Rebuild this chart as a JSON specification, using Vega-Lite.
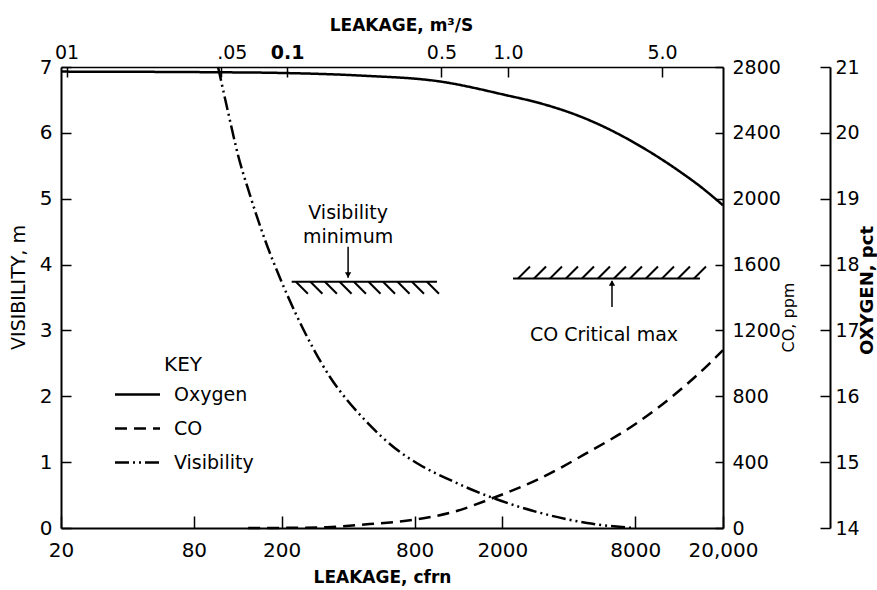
{
  "$schema": "https://vega.github.io/schema/vega-lite/v6.json",
  "width": 662,
  "height": 461,
  "autosize": {"type": "none"},
  "padding": {"left": 61, "top": 67, "right": 154, "bottom": 62},
  "background": "white",
  "config": {
    "font": "DejaVu Sans",
    "view": {"stroke": null},
    "axis": {
      "domainColor": "black", "domainWidth": 2, "tickColor": "black", "tickWidth": 1.5,
      "labelColor": "black", "titleColor": "black", "grid": false,
      "labelFont": "DejaVu Sans", "titleFont": "DejaVu Sans",
      "labelFontSize": 20, "titleFontSize": 19, "titleFontWeight": "normal", "labelFlush": false
    },
    "text": {"font": "DejaVu Sans", "fontSize": 19, "color": "black"}
  },
  "datasets": {
    "vis": [
      {"cfm": 103, "v": 7.0, "series": "Visibility"},
      {"cfm": 114.3, "v": 6.317, "series": "Visibility"},
      {"cfm": 126.8, "v": 5.664, "series": "Visibility"},
      {"cfm": 143.7, "v": 5.056, "series": "Visibility"},
      {"cfm": 168.1, "v": 4.373, "series": "Visibility"},
      {"cfm": 196.5, "v": 3.796, "series": "Visibility"},
      {"cfm": 229.8, "v": 3.28, "series": "Visibility"},
      {"cfm": 277.4, "v": 2.733, "series": "Visibility"},
      {"cfm": 331.1, "v": 2.293, "series": "Visibility"},
      {"cfm": 395.6, "v": 1.944, "series": "Visibility"},
      {"cfm": 467.3, "v": 1.67, "series": "Visibility"},
      {"cfm": 575.8, "v": 1.367, "series": "Visibility"},
      {"cfm": 687.6, "v": 1.154, "series": "Visibility"},
      {"cfm": 847.4, "v": 0.957, "series": "Visibility"},
      {"cfm": 1158, "v": 0.729, "series": "Visibility"},
      {"cfm": 1814, "v": 0.456, "series": "Visibility"},
      {"cfm": 2872, "v": 0.243, "series": "Visibility"},
      {"cfm": 4840, "v": 0.076, "series": "Visibility"},
      {"cfm": 7820, "v": 0.0, "series": "Visibility"}
    ],
    "co": [
      {"cfm": 141, "ppm": 0, "series": "CO"},
      {"cfm": 218, "ppm": 1, "series": "CO"},
      {"cfm": 321, "ppm": 5, "series": "CO"},
      {"cfm": 500, "ppm": 24, "series": "CO"},
      {"cfm": 787, "ppm": 49, "series": "CO"},
      {"cfm": 1195, "ppm": 97, "series": "CO"},
      {"cfm": 1814, "ppm": 182, "series": "CO"},
      {"cfm": 2872, "ppm": 292, "series": "CO"},
      {"cfm": 4840, "ppm": 456, "series": "CO"},
      {"cfm": 8150, "ppm": 638, "series": "CO"},
      {"cfm": 12772, "ppm": 838, "series": "CO"},
      {"cfm": 17460, "ppm": 1002, "series": "CO"},
      {"cfm": 20000, "ppm": 1081, "series": "CO"}
    ],
    "o2": [
      {"cfm": 20, "pct": 20.93, "series": "Oxygen"},
      {"cfm": 103, "pct": 20.92, "series": "Oxygen"},
      {"cfm": 197, "pct": 20.91, "series": "Oxygen"},
      {"cfm": 453, "pct": 20.87, "series": "Oxygen"},
      {"cfm": 1044, "pct": 20.78, "series": "Oxygen"},
      {"cfm": 2094, "pct": 20.57, "series": "Oxygen"},
      {"cfm": 2964, "pct": 20.45, "series": "Oxygen"},
      {"cfm": 4498, "pct": 20.25, "series": "Oxygen"},
      {"cfm": 5541, "pct": 20.12, "series": "Oxygen"},
      {"cfm": 9020, "pct": 19.74, "series": "Oxygen"},
      {"cfm": 12772, "pct": 19.41, "series": "Oxygen"},
      {"cfm": 15727, "pct": 19.19, "series": "Oxygen"},
      {"cfm": 20000, "pct": 18.9, "series": "Oxygen"}
    ],
    "visHatch": [
      {"cfm": 232, "v": 3.74}, {"cfm": 270, "v": 3.74}, {"cfm": 314, "v": 3.74},
      {"cfm": 366, "v": 3.74}, {"cfm": 425, "v": 3.74}, {"cfm": 495, "v": 3.74},
      {"cfm": 576, "v": 3.74}, {"cfm": 670, "v": 3.74}, {"cfm": 779, "v": 3.74},
      {"cfm": 911, "v": 3.74}
    ],
    "coHatch": [
      {"cfm": 2355, "ppm": 1515}, {"cfm": 2784, "ppm": 1515}, {"cfm": 3289, "ppm": 1515},
      {"cfm": 3885, "ppm": 1515}, {"cfm": 4592, "ppm": 1515}, {"cfm": 5426, "ppm": 1515},
      {"cfm": 6412, "ppm": 1515}, {"cfm": 7577, "ppm": 1515}, {"cfm": 8954, "ppm": 1515},
      {"cfm": 10582, "ppm": 1515}, {"cfm": 12504, "ppm": 1515}, {"cfm": 14777, "ppm": 1515}
    ]
  },
  "layer": [
    {
      "data": {"name": "vis"},
      "mark": {"type": "line", "color": "black", "strokeWidth": 2.5, "interpolate": "monotone"},
      "encoding": {
        "x": {
          "field": "cfm", "type": "quantitative",
          "scale": {"type": "log", "domain": [20, 20000], "nice": false, "zero": false},
          "axis": {
            "orient": "bottom", "values": [20, 80, 200, 800, 2000, 8000, 20000],
            "labelExpr": "datum.value >= 20000 ? '20,000' : '' + datum.value",
            "tickSize": -12, "labelPadding": 24,
            "title": "LEAKAGE, cfrn", "titleFontWeight": "bold", "titleFontSize": 17,
            "titleX": 321, "titleY": 49, "titleBaseline": "middle", "titleAlign": "center"
          }
        },
        "y": {
          "field": "v", "type": "quantitative",
          "scale": {"domain": [0, 7], "nice": false, "zero": true},
          "axis": {
            "orient": "left", "values": [0, 1, 2, 3, 4, 5, 6, 7],
            "tickSize": -10, "labelPadding": 19,
            "title": "VISIBILITY, m", "titleX": -43, "titleY": 220,
            "titleBaseline": "middle", "titleAlign": "center", "titleAngle": -90
          }
        },
        "strokeDash": {
          "field": "series", "type": "nominal",
          "scale": {"domain": ["Oxygen", "CO", "Visibility"], "range": [[1, 0], [12, 7], [14, 4, 2, 4, 2, 4]]},
          "legend": {
            "title": "KEY", "orient": "none", "legendX": 52, "legendY": 288,
            "symbolType": "M-1,0H5", "symbolSize": 225, "symbolStrokeWidth": 2.5,
            "symbolStrokeColor": "black", "symbolFillColor": "transparent",
            "labelFontSize": 19, "labelOffset": 42, "labelColor": "black", "labelFont": "DejaVu Sans",
            "titleFontSize": 20, "titleFontWeight": "normal", "titleColor": "black", "titleFont": "DejaVu Sans",
            "titleAnchor": "middle", "titlePadding": 10, "rowPadding": 14, "padding": 0
          }
        }
      }
    },
    {
      "data": {"values": [{"x1": 222, "x2": 1011, "v": 3.74}]},
      "mark": {"type": "rule", "color": "black", "strokeWidth": 2},
      "encoding": {
        "x": {"field": "x1", "type": "quantitative", "scale": {"type": "log", "domain": [20, 20000], "nice": false, "zero": false}, "axis": null},
        "x2": {"field": "x2"},
        "y": {"field": "v", "type": "quantitative", "scale": {"domain": [0, 7], "nice": false, "zero": true}, "axis": null}
      }
    },
    {
      "data": {"name": "visHatch"},
      "mark": {"type": "point", "shape": "M0,0L2,2", "size": 144, "filled": false, "color": "black", "strokeWidth": 2, "opacity": 1},
      "encoding": {
        "x": {"field": "cfm", "type": "quantitative", "scale": {"type": "log", "domain": [20, 20000], "nice": false, "zero": false}, "axis": null},
        "y": {"field": "v", "type": "quantitative", "scale": {"domain": [0, 7], "nice": false, "zero": true}, "axis": null}
      }
    },
    {
      "data": {"values": [{"cfm": 400, "v1": 4.27, "v2": 3.8}]},
      "mark": {"type": "rule", "color": "black", "strokeWidth": 1.5},
      "encoding": {
        "x": {"field": "cfm", "type": "quantitative", "scale": {"type": "log", "domain": [20, 20000], "nice": false, "zero": false}, "axis": null},
        "y": {"field": "v1", "type": "quantitative", "scale": {"domain": [0, 7], "nice": false, "zero": true}, "axis": null},
        "y2": {"field": "v2"}
      }
    },
    {
      "data": {"values": [{"cfm": 400, "v": 3.84}]},
      "mark": {"type": "point", "shape": "triangle-down", "size": 40, "filled": true, "color": "black", "opacity": 1},
      "encoding": {
        "x": {"field": "cfm", "type": "quantitative", "scale": {"type": "log", "domain": [20, 20000], "nice": false, "zero": false}, "axis": null},
        "y": {"field": "v", "type": "quantitative", "scale": {"domain": [0, 7], "nice": false, "zero": true}, "axis": null}
      }
    },
    {
      "data": {"values": [{"cfm": 400, "v": 4.78, "t": "Visibility"}, {"cfm": 400, "v": 4.42, "t": "minimum"}]},
      "mark": {"type": "text", "align": "center", "baseline": "middle", "fontSize": 19, "color": "black"},
      "encoding": {
        "x": {"field": "cfm", "type": "quantitative", "scale": {"type": "log", "domain": [20, 20000], "nice": false, "zero": false}, "axis": null},
        "y": {"field": "v", "type": "quantitative", "scale": {"domain": [0, 7], "nice": false, "zero": true}, "axis": null},
        "text": {"field": "t"}
      }
    },
    {
      "data": {"name": "co"},
      "mark": {"type": "line", "color": "black", "strokeWidth": 2.5, "interpolate": "monotone"},
      "encoding": {
        "x": {"field": "cfm", "type": "quantitative", "scale": {"type": "log", "domain": [20, 20000], "nice": false, "zero": false}, "axis": null},
        "y": {
          "field": "ppm", "type": "quantitative",
          "scale": {"domain": [0, 2800], "nice": false, "zero": true},
          "axis": {
            "orient": "right", "values": [0, 400, 800, 1200, 1600, 2000, 2400, 2800],
            "labelExpr": "'' + datum.value", "labelFontSize": 19,
            "tickSize": -8, "labelPadding": 17,
            "title": "CO, ppm", "titleFontSize": 16, "titleAngle": -90,
            "titleX": 65, "titleY": 250, "titleBaseline": "middle", "titleAlign": "center"
          }
        },
        "strokeDash": {"field": "series", "type": "nominal", "scale": {"domain": ["Oxygen", "CO", "Visibility"], "range": [[1, 0], [12, 7], [14, 4, 2, 4, 2, 4]]}}
      }
    },
    {
      "data": {"values": [{"x1": 2236, "x2": 15727, "ppm": 1515}]},
      "mark": {"type": "rule", "color": "black", "strokeWidth": 2},
      "encoding": {
        "x": {"field": "x1", "type": "quantitative", "scale": {"type": "log", "domain": [20, 20000], "nice": false, "zero": false}, "axis": null},
        "x2": {"field": "x2"},
        "y": {"field": "ppm", "type": "quantitative", "scale": {"domain": [0, 2800], "nice": false, "zero": true}, "axis": null}
      }
    },
    {
      "data": {"name": "coHatch"},
      "mark": {"type": "point", "shape": "M0,0L2,-2", "size": 144, "filled": false, "color": "black", "strokeWidth": 2, "opacity": 1},
      "encoding": {
        "x": {"field": "cfm", "type": "quantitative", "scale": {"type": "log", "domain": [20, 20000], "nice": false, "zero": false}, "axis": null},
        "y": {"field": "ppm", "type": "quantitative", "scale": {"domain": [0, 2800], "nice": false, "zero": true}, "axis": null}
      }
    },
    {
      "data": {"values": [{"cfm": 6280, "p1": 1342, "p2": 1500}]},
      "mark": {"type": "rule", "color": "black", "strokeWidth": 1.5},
      "encoding": {
        "x": {"field": "cfm", "type": "quantitative", "scale": {"type": "log", "domain": [20, 20000], "nice": false, "zero": false}, "axis": null},
        "y": {"field": "p1", "type": "quantitative", "scale": {"domain": [0, 2800], "nice": false, "zero": true}, "axis": null},
        "y2": {"field": "p2"}
      }
    },
    {
      "data": {"values": [{"cfm": 6280, "ppm": 1488}]},
      "mark": {"type": "point", "shape": "triangle-up", "size": 40, "filled": true, "color": "black", "opacity": 1},
      "encoding": {
        "x": {"field": "cfm", "type": "quantitative", "scale": {"type": "log", "domain": [20, 20000], "nice": false, "zero": false}, "axis": null},
        "y": {"field": "ppm", "type": "quantitative", "scale": {"domain": [0, 2800], "nice": false, "zero": true}, "axis": null}
      }
    },
    {
      "data": {"values": [{"cfm": 5776, "ppm": 1172, "t": "CO Critical max"}]},
      "mark": {"type": "text", "align": "center", "baseline": "middle", "fontSize": 19, "color": "black"},
      "encoding": {
        "x": {"field": "cfm", "type": "quantitative", "scale": {"type": "log", "domain": [20, 20000], "nice": false, "zero": false}, "axis": null},
        "y": {"field": "ppm", "type": "quantitative", "scale": {"domain": [0, 2800], "nice": false, "zero": true}, "axis": null},
        "text": {"field": "t"}
      }
    },
    {
      "data": {"name": "o2"},
      "mark": {"type": "line", "color": "black", "strokeWidth": 2.5, "interpolate": "monotone"},
      "encoding": {
        "x": {"field": "cfm", "type": "quantitative", "scale": {"type": "log", "domain": [20, 20000], "nice": false, "zero": false}, "axis": null},
        "y": {
          "field": "pct", "type": "quantitative",
          "scale": {"domain": [14, 21], "nice": false, "zero": false},
          "axis": {
            "orient": "right", "offset": 107, "values": [14, 15, 16, 17, 18, 19, 20, 21],
            "tickSize": -10, "labelPadding": 15, "labelFontSize": 19,
            "title": "OXYGEN, pct", "titleFontWeight": "bold", "titleFontSize": 18, "titleAngle": -90,
            "titleX": 37, "titleY": 223, "titleBaseline": "middle", "titleAlign": "center"
          }
        },
        "strokeDash": {"field": "series", "type": "nominal", "scale": {"domain": ["Oxygen", "CO", "Visibility"], "range": [[1, 0], [12, 7], [14, 4, 2, 4, 2, 4]]}}
      }
    },
    {
      "data": {"values": [{"cfm": 21.19}]},
      "mark": {"type": "rule", "opacity": 0},
      "encoding": {
        "x": {
          "field": "cfm", "type": "quantitative",
          "scale": {"type": "log", "domain": [20, 20000], "nice": false, "zero": false},
          "axis": {
            "orient": "top", "values": [21.19, 105.94, 211.89, 1059.44, 2118.88, 10594.4],
            "labelExpr": "datum.value < 50 ? '01' : datum.value < 150 ? '.05' : datum.value < 500 ? '0.1' : datum.value < 1500 ? '0.5' : datum.value < 5000 ? '1.0' : '5.0'",
            "labelFontWeight": {"condition": {"test": "datum.value > 200 && datum.value < 250", "value": "bold"}, "value": "normal"},
            "labelOffset": {"condition": {"test": "datum.value > 100 && datum.value < 110", "value": 11}, "value": 0},
            "tickSize": -10, "labelPadding": 15, "labelFontSize": 19, "domainWidth": 1.5,
            "title": "LEAKAGE, m³/S", "titleFontWeight": "bold", "titleFontSize": 17,
            "titleX": 340, "titleY": -42, "titleBaseline": "middle", "titleAlign": "center"
          }
        }
      }
    }
  ],
  "resolve": {"scale": {"y": "independent"}, "axis": {"x": "independent", "y": "independent"}}
}
